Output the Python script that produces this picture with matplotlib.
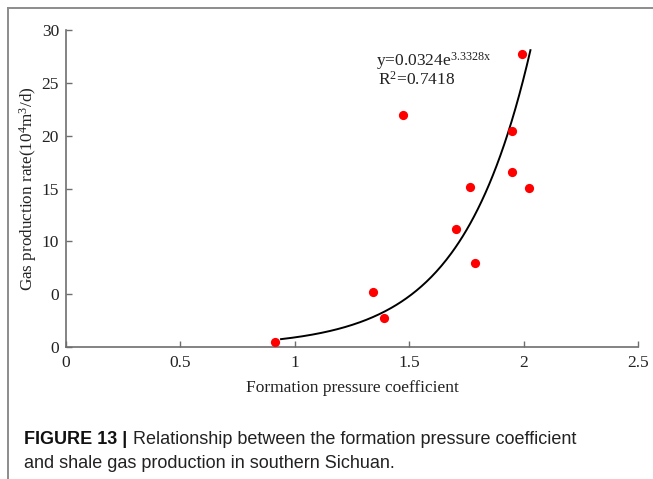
import matplotlib.pyplot as plt
import numpy as np
from matplotlib.lines import Line2D

# measured points
pressure_coef = [0.913, 1.343, 1.391, 1.474, 1.703, 1.766, 1.786, 1.948, 1.948, 1.992, 2.025]
gas_rate = [0.44, 5.17, 2.71, 21.95, 11.2, 15.14, 7.98, 20.47, 16.59, 27.7, 15.01]

# fitted curve y = a * exp(b x), as printed on the chart
fit_a = 0.0324
fit_b = 3.3328
fit_range = (0.94, 2.03)

x_ticks = [0, 0.5, 1, 1.5, 2, 2.5]
x_tick_labels = ['0', '0.5', '1', '1.5', '2', '2.5']
y_ticks = [0, 5, 10, 15, 20, 25, 30]
y_tick_labels = ['0', '0', '10', '15', '20', '25', '30']

STYLE = {
    'serif': 'Liberation Serif',
    'sans': 'Liberation Sans',
    'axis_color': '#6e6e6e',
    'text_color': '#222222',
    'point_color': '#ff0000',
}

plt.rcParams['mathtext.fontset'] = 'custom'
plt.rcParams['mathtext.rm'] = STYLE['serif']
plt.rcParams['mathtext.it'] = STYLE['serif']

fig = plt.figure(figsize=(6.53, 4.79), dpi=100, facecolor='white')
ax = fig.add_axes([0.101, 0.2756, 0.876, 0.6614])

ax.scatter(pressure_coef, gas_rate, s=44, c=STYLE['point_color'], zorder=3, linewidths=0)

xs = np.linspace(fit_range[0], fit_range[1], 200)
ax.plot(xs, fit_a * np.exp(fit_b * xs), color='black', lw=1.4, zorder=2)

ax.set_xlim(0, 2.5)
ax.set_ylim(0, 30)
ax.set_xticks(x_ticks)
ax.set_xticklabels(x_tick_labels)
ax.set_yticks(y_ticks)
ax.set_yticklabels(y_tick_labels)

for lab in ax.get_xticklabels() + ax.get_yticklabels():
    lab.set_fontfamily(STYLE['serif'])
    lab.set_fontsize(12.5)
    lab.set_color(STYLE['text_color'])

ax.tick_params(direction='in', length=4, width=1, color=STYLE['axis_color'], pad=5)
ax.tick_params(axis='x', pad=6)
for side in ['top', 'right']:
    ax.spines[side].set_visible(False)
for side in ['left', 'bottom']:
    ax.spines[side].set_color(STYLE['axis_color'])
    ax.spines[side].set_linewidth(1.2)

ax.set_xlabel('Formation pressure coefficient', fontfamily=STYLE['serif'], fontsize=12.5,
              color=STYLE['text_color'], labelpad=6)
ax.set_ylabel(r'Gas production rate(10$^{4}$m$^{3}$/d)', fontfamily=STYLE['serif'], fontsize=12.3,
              color=STYLE['text_color'], labelpad=2)

ax.text(1.355, 27.06, r'y=0.0324e$^{3.3328x}$', fontfamily=STYLE['serif'], fontsize=12.5,
        color=STYLE['text_color'], va='center')
ax.text(1.365, 25.26, r'R$^{2}$=0.7418', fontfamily=STYLE['serif'], fontsize=12.5,
        color=STYLE['text_color'], va='center')

# caption: bold label, then the rest placed right after it
cap_y = 1 - 439 / 479
head = fig.text(24 / 653, cap_y, 'FIGURE 13 |', fontfamily=STYLE['sans'], fontweight='bold',
                fontsize=13, color='#111111', va='center')
renderer = fig.canvas.get_renderer()
head_end = head.get_window_extent(renderer).x1 / fig.bbox.width
fig.text(head_end + 6 / 653, cap_y, 'Relationship between the formation pressure coefficient',
         fontfamily=STYLE['sans'], fontsize=13, color='#222222', va='center')
fig.text(24 / 653, 1 - 463 / 479, 'and shale gas production in southern Sichuan.',
         fontfamily=STYLE['sans'], fontsize=13, color='#222222', va='center')

# frame lines on left and top
frame_cfg = dict(transform=fig.transFigure, color='#8c8c8c', lw=1.4)
fig.add_artist(Line2D([8 / 653, 8 / 653], [0, 1 - 8 / 479], **frame_cfg))
fig.add_artist(Line2D([8 / 653, 1], [1 - 8 / 479, 1 - 8 / 479], **frame_cfg))

fig.savefig('out.png', dpi=100)
